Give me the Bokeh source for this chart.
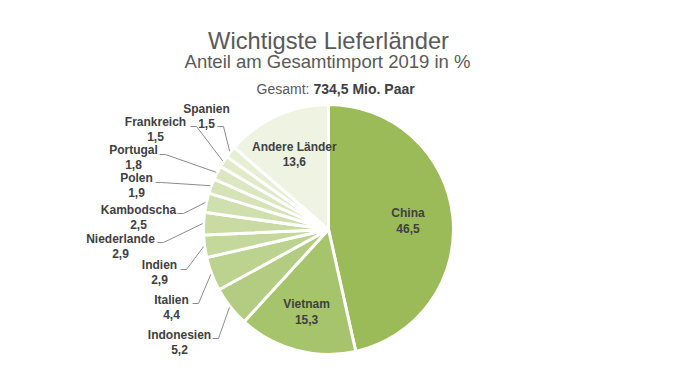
import math
from bokeh.plotting import figure
from bokeh.models import Range1d
from bokeh.core.properties import value
from bokeh.embed import file_html
from bokeh.resources import INLINE

# ---- data ----
countries = ["China", "Vietnam", "Indonesien", "Italien", "Indien", "Niederlande",
             "Kambodscha", "Polen", "Portugal", "Frankreich", "Spanien", "Andere Länder"]
shares = [46.5, 15.3, 5.2, 4.4, 2.9, 2.9, 2.5, 1.9, 1.8, 1.5, 1.5, 13.6]
title = "Wichtigste Lieferländer"
subtitle = "Anteil am Gesamtimport 2019 in %"
total_label = "Gesamt:"
total_value = "734,5 Mio. Paar"

# ---- style ----
colors = ["#9bbb59", "#a6c46c", "#b3cc82", "#bcd28f", "#c4d89b", "#c9dba3",
          "#cfdfad", "#d5e3b7", "#dbe7c0", "#e0eac9", "#e6eed3", "#eef3e2"]
FONT = value("Liberation Sans")
W, H = 659, 362

def X(ix):
    return ix

def Y(iy):
    return H - iy

p = figure(width=W, height=H, output_backend="svg", toolbar_location=None,
           x_range=Range1d(0, W), y_range=Range1d(0, H),
           x_axis_type=None, y_axis_type=None, min_border=0)
p.outline_line_color = None
p.grid.visible = False
p.background_fill_color = "white"

# pie
cx, cy, R = X(328), Y(229), 125
total = sum(shares)
starts, ends, mids = [], [], []
c = 0.0
for s in shares:
    a0 = math.pi / 2 - 2 * math.pi * c / total
    c += s
    a1 = math.pi / 2 - 2 * math.pi * c / total
    starts.append(a0)
    ends.append(a1)
    mids.append((a0 + a1) / 2)

p.wedge(x=cx, y=cy, radius=R, start_angle=starts, end_angle=ends, direction="clock",
        fill_color=colors, line_color="white", line_width=3)

vals = [f"{s:.1f}".replace(".", ",") for s in shares]
LABEL_COLOR = "#404040"

# inside labels
inside = {0: 0.64, 1: 0.68, 11: 0.66}
for i, f in inside.items():
    lx = cx + R * f * math.cos(mids[i])
    ly = cy + R * f * math.sin(mids[i])
    p.text(x=[lx, lx], y=[ly + 7.5, ly - 7.5], text=[countries[i], vals[i]],
           text_font=FONT, text_font_size="12px", text_font_style="bold",
           text_color=LABEL_COLOR, text_align="center", text_baseline="middle")

# outside labels: layout positions (image px): name centre, leader start
outside = {
    2: ((179, 334), (212, 338)),
    3: ((171, 299), (192, 303)),
    4: ((159, 264), (180, 269)),
    5: ((120, 238), (157, 242)),
    6: ((138, 209), (177, 213)),
    7: ((136, 177), (155, 182)),
    8: ((133, 149), (159, 154)),
    9: ((155, 121), (190, 126)),
    10: ((206, 108), (217, 126)),
}
lxs, lys = [], []
for i, ((nx, ny), (sx, sy)) in outside.items():
    p.text(x=[X(nx), X(nx)], y=[Y(ny), Y(ny + 15)], text=[countries[i], vals[i]],
           text_font=FONT, text_font_size="12px", text_font_style="bold",
           text_color=LABEL_COLOR, text_align="center", text_baseline="middle")
    ex = cx + (R + 1) * math.cos(mids[i])
    ey = cy + (R + 1) * math.sin(mids[i])
    lxs.append([X(sx), X(sx + 6), ex])
    lys.append([Y(sy), Y(sy), ey])
p.multi_line(xs=lxs, ys=lys, line_color="#8c8c8c", line_width=1)

# titles
p.text(x=[X(328)], y=[Y(40)], text=[title], text_font=FONT, text_font_size="23.7px",
       text_color="#595959", text_align="center", text_baseline="alphabetic")
p.text(x=[X(327)], y=[Y(61)], text=[subtitle], text_font=FONT, text_font_size="18.5px",
       text_color="#595959", text_align="center", text_baseline="alphabetic")
p.text(x=[X(309)], y=[Y(88)], text=[total_label], text_font=FONT, text_font_size="14px",
       text_color="#595959", text_align="right", text_baseline="alphabetic")
p.text(x=[X(313)], y=[Y(88)], text=[total_value], text_font=FONT, text_font_size="14px",
       text_font_style="bold", text_color="#404040", text_align="left",
       text_baseline="alphabetic")

open("out.html", "w").write(file_html(p, INLINE))
